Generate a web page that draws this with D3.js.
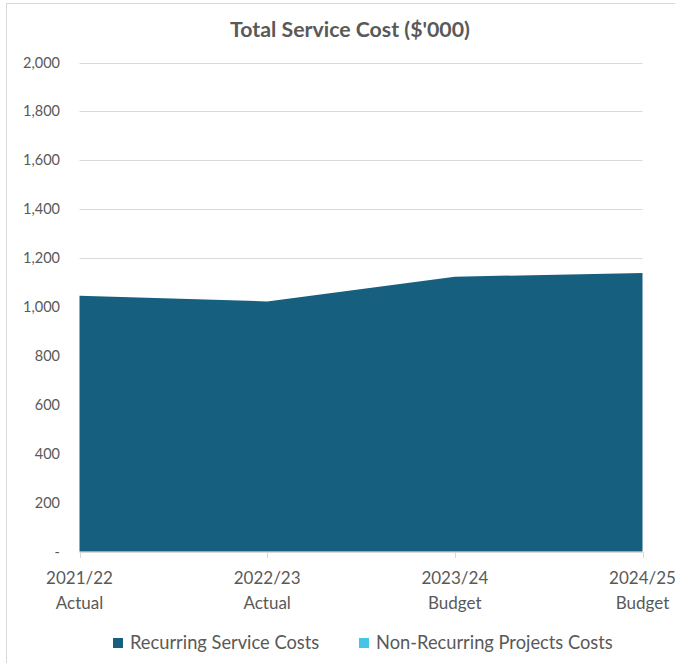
<!DOCTYPE html>
<html><head><meta charset="utf-8">
<script src="https://cdn.jsdelivr.net/npm/d3@7"></script>
<style>
html,body{margin:0;padding:0;background:#fff;}
svg{display:block;}
text{font-family:Lato,"Open Sans",sans-serif;fill:#595959;}
</style></head>
<body>
<svg id="c" width="675" height="663"></svg>
<script>
const categories = ["2021/22|Actual","2022/23|Actual","2023/24|Budget","2024/25|Budget"];
const recurring = [1046, 1023, 1124, 1139];
const nonRecurring = [0, 0, 0, 0];
const seriesNames = ["Recurring Service Costs","Non-Recurring Projects Costs"];
const seriesColors = ["#175f7f","#46c3e6"];
const yTicks = [0,200,400,600,800,1000,1200,1400,1600,1800,2000];

const svg = d3.select("#c");
// chart border
svg.append("rect").attr("x",6.5).attr("y",3.5).attr("width",700).attr("height",700)
  .attr("fill","none").attr("stroke","#d9d9d9").attr("stroke-width",1);

const x = d3.scalePoint().domain(categories).range([79.5,642.5]);
const y = d3.scaleLinear().domain([0,2000]).range([551.5,62.5]);

// gridlines
svg.append("g").selectAll("line").data(yTicks.filter(d=>d>0)).join("line")
  .attr("x1",79.5).attr("x2",642.5).attr("y1",d=>Math.round(y(d))+0.5).attr("y2",d=>Math.round(y(d))+0.5)
  .attr("stroke","#d9d9d9").attr("stroke-width",1);

// y labels
svg.append("g").selectAll("text").data(yTicks).join("text")
  .attr("x",60).attr("y",d=>y(d)).attr("dy","0.35em").attr("text-anchor","end")
  .attr("font-size",14.5)
  .text(d=> d===0 ? "-" : d3.format(",")(d));

// stacked areas
const rows = categories.map((c,i)=>({cat:c, r:recurring[i], n:nonRecurring[i]}));
const stack = d3.stack().keys(["r","n"])(rows);
const area = d3.area().x(d=>x(d.data.cat)).y0(d=>y(d[0])).y1(d=>y(d[1]));
svg.append("g").selectAll("path").data(stack).join("path")
  .attr("d",area).attr("fill",(d,i)=>seriesColors[i]);

// x axis
const xa = svg.append("g").attr("transform","translate(0,552)");
xa.append("line").attr("x1",79.5).attr("x2",642.5).attr("y1",0.5).attr("y2",0.5).attr("stroke","#d9d9d9");
xa.selectAll("line.t").data(categories).join("line").attr("class","t")
  .attr("x1",d=>Math.round(x(d))+0.5).attr("x2",d=>Math.round(x(d))+0.5).attr("y1",0).attr("y2",6)
  .attr("stroke","#d9d9d9");
const lbl = xa.selectAll("text").data(categories).join("text")
  .attr("x",d=>x(d)).attr("text-anchor","middle").attr("font-size",17);
lbl.append("tspan").attr("x",d=>x(d)).attr("y",32).text(d=>d.split("|")[0]);
lbl.append("tspan").attr("x",d=>x(d)).attr("y",57).text(d=>d.split("|")[1]);

// title
svg.append("text").attr("x",350).attr("y",37).attr("text-anchor","middle")
  .attr("font-size",21.3).attr("font-weight","bold").text("Total Service Cost ($'000)");

// legend
const legX = [113,359];
const lg = svg.append("g");
seriesNames.forEach((n,i)=>{
  lg.append("rect").attr("x",legX[i]).attr("y",638).attr("width",10).attr("height",10).attr("fill",seriesColors[i]);
  lg.append("text").attr("x",legX[i]+17).attr("y",643).attr("dy","0.35em").attr("font-size",18.3).text(n);
});
</script>
</body></html>
